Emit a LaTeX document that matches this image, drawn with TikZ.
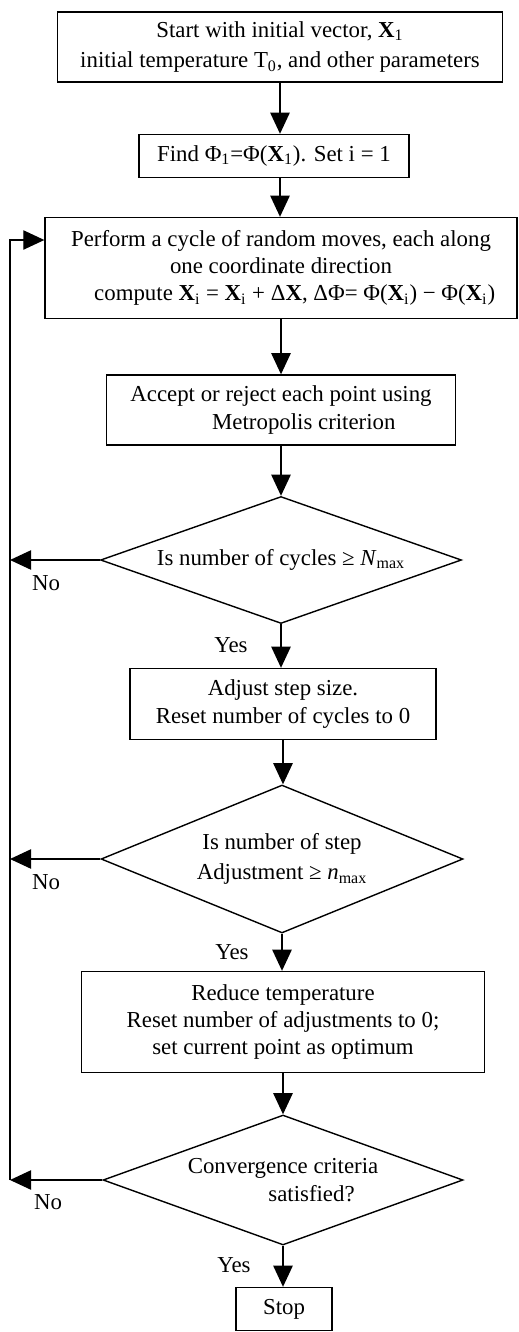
\documentclass[tikz,border=0pt]{standalone}
\usepackage{fontspec}
\setmainfont{Liberation Serif}
\usepackage{tikz}
\usetikzlibrary{arrows.meta,positioning,shapes.geometric,calc}

\begin{document}
\begin{tikzpicture}[x=0.02cm,y=-0.02cm,
    font=\fontsize{13}{15.5}\selectfont,
    box/.style={draw,line width=0.8pt,align=center,inner sep=2pt},
    dec/.style={draw,diamond,aspect=2.8,inner sep=0pt,line width=0.8pt,align=center},
    flow/.style={-{Triangle[length=12pt,width=11pt]},line width=0.8pt},
    lbl/.style={inner sep=1pt}]
  \useasboundingbox (0,0) rectangle (518,1332);

  % --- main column ------------------------------------------------------
  \node[box,minimum width=8.9cm,minimum height=1.4cm] (start) at (280,47)
    {Start with initial vector, \textbf{X}\textsubscript{1}\\[2pt]
     initial temperature T\textsubscript{0}, and other parameters};
  \node[box,minimum width=5.4cm,minimum height=0.86cm] (find) at (274,156)
    {Find Φ\textsubscript{1}=Φ(\textbf{X}\textsubscript{1}). Set i = 1};
  \node[box,minimum width=9.44cm,minimum height=2.02cm] (cycle) at (281,268)
    {Perform a cycle of random moves, each along\\
     one coordinate direction\\
     \hspace*{1.2em}compute \textbf{X}\textsubscript{i} = \textbf{X}\textsubscript{i} + Δ\textbf{X}, ΔΦ= Φ(\textbf{X}\textsubscript{i}) − Φ(\textbf{X}\textsubscript{i})};
  \node[box,minimum width=6.98cm,minimum height=1.4cm] (accept) at (281,410)
    {Accept or reject each point using\\
     \hspace*{2em}Metropolis criterion};
  \node[dec,minimum width=7.22cm,minimum height=2.54cm] (d1) at (281,560)
    {\raisebox{-6pt}{Is number of cycles ≥ \textit{N}\textsubscript{max}}};
  \node[box,minimum width=6.12cm,minimum height=1.42cm] (adjust) at (283,704)
    {Adjust step size.\\ Reset number of cycles to 0};
  \node[dec,minimum width=7.24cm,minimum height=2.96cm] (d2) at (282,859)
    {Is number of step\\[2pt] Adjustment ≥ \textit{n}\textsubscript{max}};
  \node[box,minimum width=8.06cm,minimum height=2.02cm] (reduce) at (283,1022)
    {Reduce temperature\\
     Reset number of adjustments to 0;\\
     set current point as optimum};
  \node[dec,minimum width=7.2cm,minimum height=2.6cm] (d3) at (283,1180)
    {Convergence criteria\\ \hspace*{2.5em}satisfied?};
  \node[box,minimum width=1.92cm,minimum height=0.86cm] (stop) at (284,1309)
    {Stop};

  % --- downward arrows --------------------------------------------------
  \draw[flow] (start.south) -- (start.south |- find.north);
  \draw[flow] (start.south |- find.south) -- (start.south |- cycle.north);
  \draw[flow] (cycle.south) -- (cycle.south |- accept.north);
  \draw[flow] (accept.south) -- (accept.south |- d1.north);
  \draw[flow] (d1.south) -- (d1.south |- adjust.north);
  \draw[flow] (adjust.south) -- (adjust.south |- d2.north);
  \draw[flow] (d2.south) -- (d2.south |- reduce.north);
  \draw[flow] (reduce.south) -- (reduce.south |- d3.north);
  \draw[flow] (d3.south) -- (d3.south |- stop.north);

  % --- loop back on the left --------------------------------------------
  \coordinate (lt) at (10,240);
  \coordinate (lb) at (10,1180);
  \draw[flow] (lb) -- (lt) -- (lt -| cycle.west);
  \draw[flow] (d1.west) -- (d1.west -| lb);
  \draw[flow] (d2.west) -- (d2.west -| lb);
  \draw[flow] (d3.west) -- (d3.west -| lb);

  % --- yes / no ---------------------------------------------------------
  \node[lbl] (no1) at (46,583) {No};
  \node[lbl] (no2) at (46,882) {No};
  \node[lbl] (no3) at (48,1202) {No};
  \node[lbl] (yes1) at (231,645) {Yes};
  \node[lbl] (yes2) at (232,952) {Yes};
  \node[lbl] (yes3) at (234,1265) {Yes};
\end{tikzpicture}
\end{document}
